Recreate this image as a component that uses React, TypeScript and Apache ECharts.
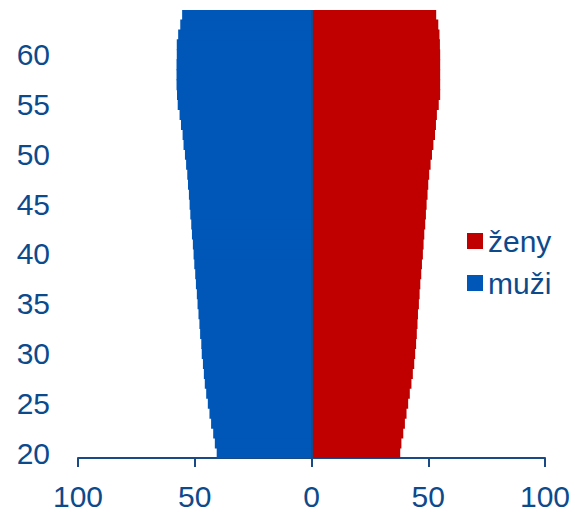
import React, { useEffect, useRef } from "react";
import * as echarts from "echarts";

const ages: string[] = [];
for (let a = 20; a <= 64; a++) ages.push(String(a));

// muži (men), ages 20..64
const muzi = [
  40.6, 41.4, 42.1, 43.0, 43.7, 44.4, 45.1, 45.7, 46.1, 46.5,
  47.0, 47.2, 47.7, 48.0, 48.4, 48.8, 49.1, 49.5, 49.8, 50.2,
  50.5, 50.8, 51.2, 51.5, 51.9, 52.2, 52.5, 52.9, 53.2, 53.7,
  54.2, 54.8, 55.2, 55.9, 56.5, 57.3, 57.6, 57.8, 57.8, 57.8,
  57.7, 57.7, 57.1, 56.2, 55.4,
];

// ženy (women), ages 20..64
const zeny = [
  38.0, 38.5, 39.3, 40.0, 40.7, 41.4, 42.1, 42.8, 43.4, 44.0,
  44.4, 44.8, 45.1, 45.4, 45.6, 46.0, 46.3, 46.6, 47.0, 47.3,
  47.7, 48.0, 48.3, 48.7, 49.0, 49.3, 49.7, 50.0, 50.4, 51.0,
  51.6, 52.2, 52.9, 53.3, 53.7, 54.5, 55.1, 55.1, 55.1, 55.1,
  55.1, 55.0, 54.8, 54.3, 53.4,
];

const xTicks = [-100, -50, 0, 50, 100];

export default function App() {
  const ref = useRef<HTMLDivElement>(null);
  useEffect(() => {
    if (!ref.current) return;
    const chart = echarts.init(ref.current, null, { renderer: "svg" });
    const axisColor = "#1a4a85";
    const textColor = "#0d4a8c";
    const font = "Liberation Sans, Arial, sans-serif";
    chart.setOption({
      animation: false,
      textStyle: { fontFamily: font },
      grid: { left: 78, right: 30, top: 10, bottom: 61, containLabel: false },
      legend: {
        data: ["ženy", "muži"],
        orient: "vertical",
        left: 467,
        top: 226,
        padding: 0,
        itemWidth: 16,
        itemHeight: 16,
        itemGap: 12,
        icon: "rect",
        textStyle: { fontSize: 30, color: textColor, fontFamily: font },
      },
      xAxis: {
        type: "value",
        min: xTicks[0],
        max: xTicks[xTicks.length - 1],
        interval: 50,
        axisLine: { show: true, onZero: false, lineStyle: { color: axisColor, width: 2 } },
        axisTick: { show: true, length: 9, lineStyle: { color: axisColor, width: 2 } },
        splitLine: { show: false },
        axisLabel: {
          fontSize: 30,
          color: textColor,
          margin: 23,
          formatter: (v: number) => String(Math.abs(v)),
        },
      },
      yAxis: {
        type: "category",
        data: ages,
        axisLine: { show: false },
        axisTick: { show: false },
        axisLabel: {
          interval: 4,
          fontSize: 30,
          color: textColor,
          margin: 28,
        },
      },
      series: [
        {
          name: "muži",
          type: "bar",
          data: muzi.map((v) => -v),
          barGap: "-100%",
          barWidth: 11,
          itemStyle: { color: "#0057b7" },
          markLine: {
            silent: true,
            symbol: "none",
            label: { show: false },
            lineStyle: { color: axisColor, width: 2, type: "solid" },
            data: [{ xAxis: 0 }],
          },
        },
        {
          name: "ženy",
          type: "bar",
          data: zeny,
          barGap: "-100%",
          barWidth: 11,
          itemStyle: { color: "#c00000" },
        },
      ],
    });
    return () => chart.dispose();
  }, []);
  return (
    <div
      ref={ref}
      style={{ position: "absolute", left: 0, top: 0, width: 575, height: 519 }}
    />
  );
}
